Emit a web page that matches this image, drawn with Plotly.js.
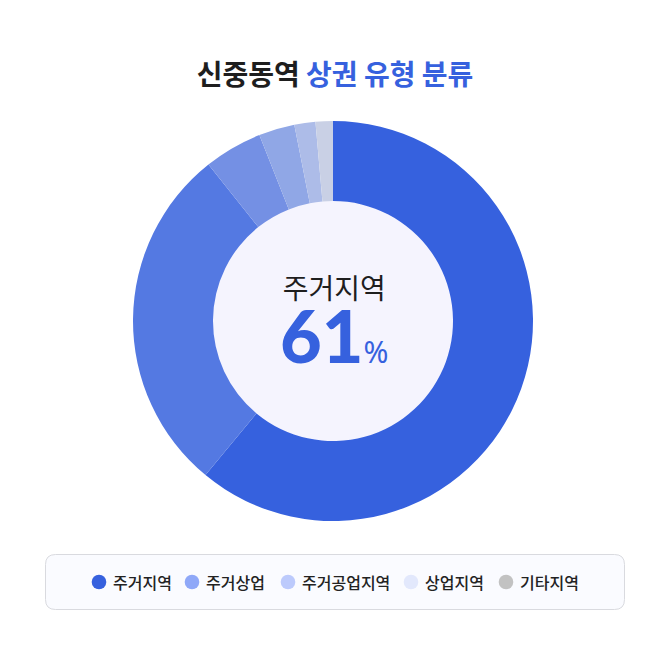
<!DOCTYPE html>
<html>
<head>
<meta charset="utf-8">
<script src="https://cdn.plot.ly/plotly-3.0.1.min.js"></script>
<style>
  html, body { margin: 0; padding: 0; background: #fff; }
  #chart { width: 670px; height: 670px; }
</style>
</head>
<body>
<div id="chart"></div>
<script>
const sliceLabels = ["주거지역", "주거상업", "주거공업지역", "상업지역", "기타지역", "미분류"];
const sliceValues = [61.0, 28.3, 4.7, 2.9, 1.7, 1.4];
const sliceColors = ["#3661DE", "#5479E2", "#7490E4", "#90A7E6", "#ADBCE8", "#C9D0E5"];

// legend entries shown in the box
const legendLabels = ["주거지역", "주거상업", "주거공업지역", "상업지역", "기타지역"];
const legendColors = ["#3661DE", "#8FA8F8", "#BCCAFC", "#E2E8FC", "#C2C2C2"];

const centerLabel = "주거지역";
const centerValue = 61;

// --- layout helpers (page is 670x670, no margins) ---
const W = 670, H = 670;
const px = x => x / W;
const py = y => 1 - y / H;

const cx = 333, cy = 321, R = 200, hole = 0.6;
const legendX = [99, 192, 288, 411, 506];   // dot centres
const legendY = 582;

function roundRect(x0, y0, x1, y1, r) {
  const a = px(x0), b = px(x1), c = py(y0), d = py(y1);
  const rx = r / W, ry = r / H;
  return `M ${a + rx},${c} L ${b - rx},${c} Q ${b},${c} ${b},${c - ry} ` +
         `L ${b},${d + ry} Q ${b},${d} ${b - rx},${d} L ${a + rx},${d} ` +
         `Q ${a},${d} ${a},${d + ry} L ${a},${c - ry} Q ${a},${c} ${a + rx},${c} Z`;
}

const shapes = [
  // centre fill of the donut
  { type: "circle", xref: "paper", yref: "paper", layer: "below",
    x0: px(cx - R * hole - 1), x1: px(cx + R * hole + 1),
    y0: py(cy + R * hole + 1), y1: py(cy - R * hole - 1),
    fillcolor: "#F5F4FE", line: { width: 0 } },
  // legend box
  { type: "path", xref: "paper", yref: "paper", layer: "below",
    path: roundRect(45.5, 554.5, 624.5, 609.5, 10),
    fillcolor: "#FAFBFF", line: { color: "#D9DADF", width: 1 } }
];

// centre label + big value in one text block (two lines)
const centerText =
  `<span style="font-size:28px;font-family:'Noto Sans CJK KR';color:#1E1E1E">${centerLabel}</span><br>` +
  `<span style="font-size:72px;font-family:Lato;font-weight:900">${centerValue}</span>` +
  `<span style="font-size:30px;font-family:'Noto Sans'">%</span>`;

const annotations = [
  { text: centerText, x: px(cx + 1), y: py(322), xref: "paper", yref: "paper",
    showarrow: false, xanchor: "center", yanchor: "middle",
    font: { family: "Lato", size: 49, color: "#3661DE" } }
];

legendLabels.forEach((lab, i) => {
  shapes.push({ type: "circle", xref: "paper", yref: "paper",
    x0: px(legendX[i] - 7.3), x1: px(legendX[i] + 7.3),
    y0: py(legendY + 7.3), y1: py(legendY - 7.3),
    fillcolor: legendColors[i], line: { width: 0 } });
  annotations.push({ text: lab, x: px(legendX[i] + 11.5), y: py(legendY),
    xref: "paper", yref: "paper", showarrow: false,
    xanchor: "left", yanchor: "middle",
    font: { family: "Noto Sans CJK KR", size: 16, color: "#222", weight: 500 } });
});

const data = [{
  type: "pie",
  labels: sliceLabels,
  values: sliceValues,
  hole: hole,
  sort: false,
  direction: "clockwise",
  rotation: 0,
  textinfo: "none",
  hoverinfo: "label+percent",
  marker: { colors: sliceColors, line: { width: 0 } },
  domain: { x: [px(cx - R), px(cx + R)], y: [py(cy + R), py(cy - R)] }
}];

const layout = {
  width: W, height: H,
  margin: { l: 0, r: 0, t: 0, b: 0 },
  paper_bgcolor: "#fff",
  showlegend: false,
  title: {
    text: `<b>신중동역 <span style="color:#3661DE">상권 유형 분류</span></b>`,
    x: 0.5, xanchor: "center", y: py(75), yanchor: "middle",
    font: { family: "Noto Sans CJK KR", size: 28, color: "#1E1E1E" }
  },
  shapes: shapes,
  annotations: annotations
};

Plotly.newPlot("chart", data, layout, { displayModeBar: false, staticPlot: true });
</script>
</body>
</html>
